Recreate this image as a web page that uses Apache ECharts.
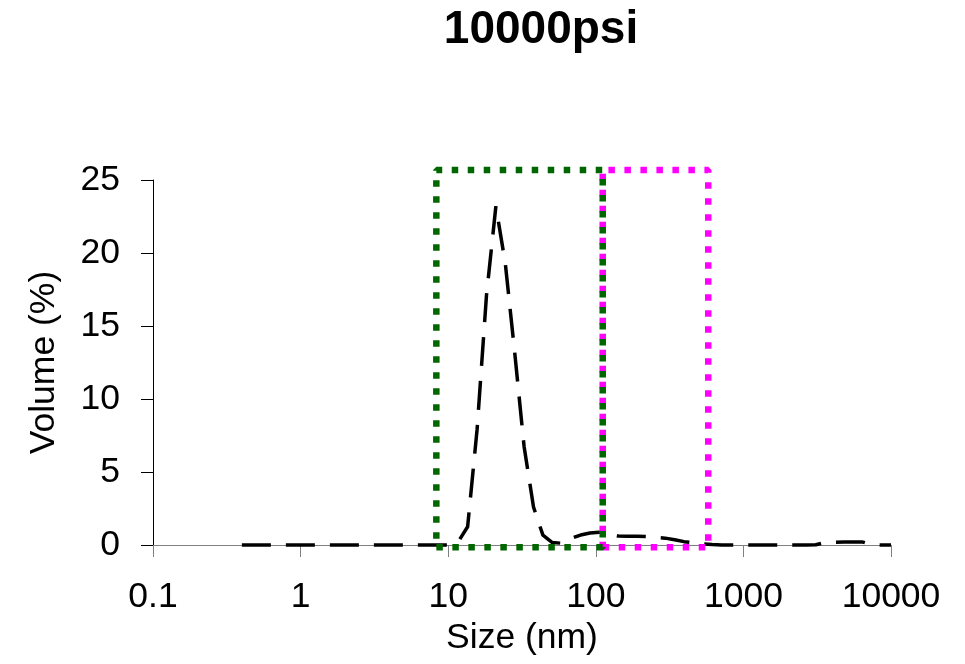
<!DOCTYPE html>
<html><head><meta charset="utf-8">
<script src="https://cdn.jsdelivr.net/npm/echarts@6/dist/echarts.min.js"></script>
<style>html,body{margin:0;padding:0;background:#fff}#c{width:965px;height:664px}</style>
</head><body><div id="c"></div>
<script>
// Size bins (nm)
const sizes = [0.4,0.4632,0.5365,0.6213,0.7195,0.8332,0.9649,1.117,1.294,1.499,1.736,2.01,2.328,2.696,3.122,3.615,4.187,4.849,5.615,6.503,7.531,8.721,10.1,11.7,13.54,15.69,18.17,21.04,24.36,28.21,32.67,37.84,43.82,50.75,58.77,68.06,78.82,91.28,105.7,122.4,141.8,164.2,190.1,220.2,255,295.3,342,396.1,458.7,531.2,615.1,712.4,825,955.4,1106,1281,1484,1718,1990,2305,2669,3091,3580,4145,4801,5560,6439,7456,8635,10000];
// Volume (%) per bin
const volume = [0,0,0,0,0,0,0,0,0,0,0,0,0,0,0,0,0,0,0,0,0,0,0,0.23,1.25,7.9,17.1,23.2,19.3,13.2,6.75,2.6,0.68,0.17,0.12,0.45,0.68,0.82,0.88,0.75,0.62,0.6,0.6,0.58,0.52,0.47,0.36,0.23,0.15,0.08,0.03,0,0,0,0,0,0,0,0,0,0,0.02,0.17,0.18,0.2,0.2,0.2,0.02,0,0];
// Tick labels
const xTickValues = [0.1,1,10,100,1000,10000];
const xTickLabels = ['0.1','1','10','100','1000','10000'];
const yTickLabels = ['0','5','10','15','20','25'];
// Highlighted size ranges (nm) and their vertical extent (%)
const greenRange = [8.31, 111.4];
const magentaRange = [111.4, 578];
const boxVolume = [-0.15, 25.68];

function boxPath(r, v){
  return [[r[0],v[0]],[r[1],v[0]],[r[1],v[1]],[r[0],v[1]],[r[0],v[0]]];
}
const FONT = 'Liberation Sans, Arial, Helvetica, sans-serif';
const chart = echarts.init(document.getElementById('c'), null, {renderer:'canvas'});
chart.setOption({
  animation:false,
  backgroundColor:'#fff',
  title:{text:'10000psi', left:541, top:7, textAlign:'center', padding:0,
    textStyle:{fontSize:46, fontWeight:'bold', color:'#000', fontFamily:FONT}},
  grid:{left:153, right:74, top:180, bottom:119, containLabel:false},
  xAxis:{type:'log', logBase:10, min:0.1, max:10000,
    name:'Size (nm)', nameLocation:'middle', nameGap:71,
    nameTextStyle:{fontSize:35.5, color:'#000', fontFamily:FONT},
    axisLine:{show:true, lineStyle:{color:'#808080', width:1}},
    axisTick:{show:true, inside:false, length:12, lineStyle:{color:'#808080', width:1}},
    minorTick:{show:false}, splitLine:{show:false},
    axisLabel:{margin:34, fontSize:35.5, color:'#000', fontFamily:FONT,
      formatter:function(v){
        const i = xTickValues.findIndex(t=>Math.abs(Math.log10(t)-Math.log10(v))<1e-6);
        return i>=0 ? xTickLabels[i] : '';
      }}
  },
  yAxis:{type:'value', min:0, max:25, interval:5,
    name:'Volume (%)', nameLocation:'middle', nameRotate:90, nameGap:91,
    nameTextStyle:{fontSize:35.5, color:'#000', fontFamily:FONT},
    axisLine:{show:true, lineStyle:{color:'#000', width:1}},
    axisTick:{show:true, inside:false, length:12, lineStyle:{color:'#000', width:1}},
    splitLine:{show:false},
    axisLabel:{margin:33, fontSize:35.5, color:'#000', fontFamily:FONT,
      formatter:function(v){ return yTickLabels[Math.round(v/5)]; }}
  },
  series:[
    {type:'line', data:sizes.map((s,i)=>[s, volume[i]]), showSymbol:false, symbol:'none',
      lineStyle:{color:'#000', width:3.5, type:[29,15]}, z:2, clip:false},
    {type:'line', data:boxPath(magentaRange, boxVolume), showSymbol:false, symbol:'none',
      lineStyle:{color:'#FF00FF', width:6.5, type:[6.5,9.5]}, z:3, clip:false},
    {type:'line', data:boxPath(greenRange, boxVolume), showSymbol:false, symbol:'none',
      lineStyle:{color:'#006600', width:6.5, type:[6.5,9.5]}, z:4, clip:false}
  ]
});
</script></body></html>
